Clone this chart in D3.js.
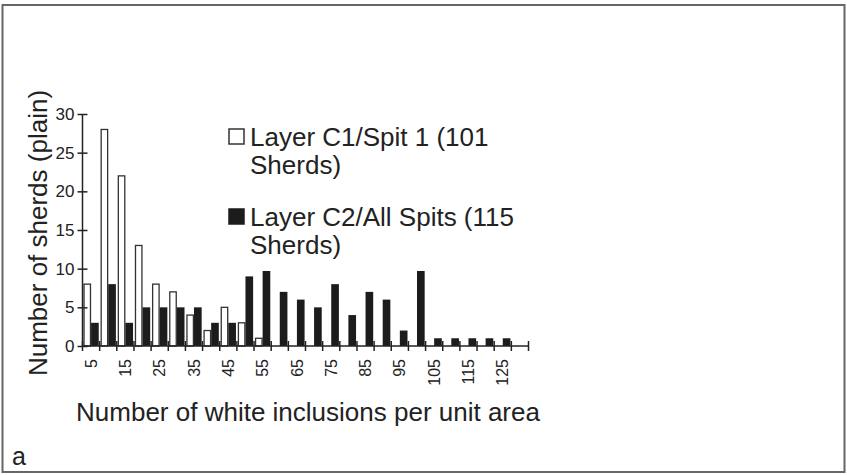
<!DOCTYPE html>
<html>
<head>
<meta charset="utf-8">
<script src="https://cdn.jsdelivr.net/npm/d3@7"></script>
<style>
  html, body { margin: 0; padding: 0; background: #fff; }
  svg { display: block; }
  text { font-family: "Liberation Sans", Arial, Helvetica, sans-serif; fill: #222; }
</style>
</head>
<body>
<svg id="chart" width="847" height="475"></svg>
<script>
// ---- data ----
const categories = ["5","10","15","20","25","30","35","40","45","50","55","60","65","70","75","80","85","90","95","100","105","110","115","120","125","130"];
const labelledTicks = ["5","15","25","35","45","55","65","75","85","95","105","115","125"];
const layerC1 = [8,28,22,13,8,7,4,2,5,3,1,0,0,0,0,0,0,0,0,0,0,0,0,0,0,0];
const layerC2 = [3,8,3,5,5,5,5,3,3,9,9.7,7,6,5,8,4,7,6,2,9.7,1,1,1,1,1,0];
const seriesNames = ["Layer C1/Spit 1 (101 Sherds)", "Layer C2/All Spits (115 Sherds)"];
const yTicks = [0,5,10,15,20,25,30];

const svg = d3.select("#chart");

// frame
svg.append("rect").attr("x", 2.5).attr("y", 5).attr("width", 842).attr("height", 467)
  .attr("fill", "none").attr("stroke", "#666").attr("stroke-width", 2);

const x0 = 82.5, x1 = 528.5, yBase = 346, yTop = 114;
const x = d3.scaleBand().domain(categories).range([x0, x1]).padding(0);
const y = d3.scaleLinear().domain([0, 30]).range([yBase, yTop]);
const xs = d3.scaleBand().domain([0, 1]).range([0, x.bandwidth()]).paddingOuter(0.12).paddingInner(0);

const data = categories.map((c, i) => ({c, v: [layerC1[i], layerC2[i]]}));

// bars
const g = svg.append("g");
const groups = g.selectAll("g.cat").data(data).join("g").attr("class", "cat")
  .attr("transform", d => `translate(${x(d.c)},0)`);
groups.selectAll("rect").data(d => d.v.map((v, k) => ({v, k}))).join("rect")
  .filter(d => d.v > 0)
  .attr("x", d => xs(d.k) + (d.k === 0 ? 0.6 : 0))
  .attr("width", d => xs.bandwidth() - (d.k === 0 ? 1.2 : 0))
  .attr("y", d => y(d.v))
  .attr("height", d => yBase - y(d.v))
  .attr("fill", d => d.k === 0 ? "#fff" : "#1c1c1c")
  .attr("stroke", d => d.k === 0 ? "#333" : "none")
  .attr("stroke-width", 1.3);

// y axis
const yAxis = svg.append("g").attr("transform", `translate(${x0},0)`)
  .call(d3.axisLeft(y).tickValues(yTicks).tickSize(5).tickPadding(3));
yAxis.select(".domain").attr("stroke", "#222").attr("stroke-width", 1.5).attr("d", `M0,${yBase}V${yTop}`);
yAxis.selectAll(".tick line").attr("x1", -5).attr("x2", 5).attr("stroke", "#222").attr("stroke-width", 1.5);
yAxis.selectAll(".tick text").attr("font-size", 17).attr("font-family", "Liberation Sans, Arial, sans-serif").attr("fill", "#222");

// x axis
const xAxis = svg.append("g").attr("transform", `translate(0,${yBase})`)
  .call(d3.axisBottom(x).tickValues(labelledTicks).tickSize(0).tickPadding(0));
xAxis.select(".domain").attr("stroke", "#222").attr("stroke-width", 1.5).attr("d", `M${x0},0H${x1}`);
xAxis.selectAll(".tick text")
  .attr("font-size", 16).attr("font-family", "Liberation Sans, Arial, sans-serif").attr("fill", "#222")
  .attr("transform", "rotate(-90)")
  .attr("x", -13).attr("y", 0).attr("dy", "0.35em")
  .attr("text-anchor", "end");
// boundary ticks crossing the axis
const bounds = categories.map(c => x(c)).concat([x1]);
xAxis.selectAll("line.bt").data(bounds).join("line").attr("class", "bt")
  .attr("x1", d => d).attr("x2", d => d).attr("y1", -5).attr("y2", 5)
  .attr("stroke", "#222").attr("stroke-width", 1.5);

// axis titles
svg.append("text").attr("transform", `translate(47,233) rotate(-90)`)
  .attr("text-anchor", "middle").attr("font-size", 26).text("Number of sherds (plain)");
svg.append("text").attr("x", 308).attr("y", 421)
  .attr("text-anchor", "middle").attr("font-size", 26).text("Number of white inclusions per unit area");
svg.append("text").attr("x", 12).attr("y", 465).attr("font-size", 25).text("a");

// legend
const legend = svg.append("g");
const legendItems = [
  {fill: "#fff", stroke: "#333", lines: ["Layer C1/Spit 1 (101", "Sherds)"], y: 129},
  {fill: "#1c1c1c", stroke: "#1c1c1c", lines: ["Layer C2/All Spits (115", "Sherds)"], y: 209}
];
legendItems.forEach((it, i) => {
  legend.append("rect").attr("x", 229).attr("y", it.y).attr("width", 15).attr("height", 15)
    .attr("fill", it.fill).attr("stroke", it.stroke).attr("stroke-width", 1.5);
  legend.append("text").attr("x", 250).attr("y", it.y + 17).attr("font-size", 26).text(it.lines[0]);
  legend.append("text").attr("x", 250).attr("y", it.y + 45).attr("font-size", 26).text(it.lines[1]);
});
</script>
</body>
</html>
